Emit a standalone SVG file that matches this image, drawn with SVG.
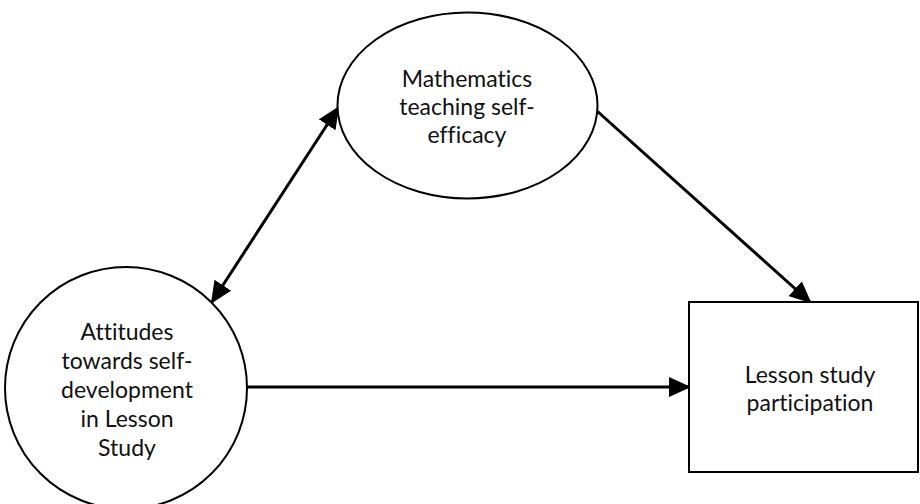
<svg xmlns="http://www.w3.org/2000/svg" width="920" height="504" viewBox="0 0 920 504">
<style>
.shape{fill:#fff;stroke:#000;stroke-width:2}
.lbl{font-family:Lato,"Open Sans","Liberation Sans",sans-serif;font-size:23px;fill:#111;text-anchor:middle;font-variant-ligatures:none}
.edge{stroke:#000;stroke-width:3;fill:none}
</style>
<defs>
<marker id="ah" markerUnits="userSpaceOnUse" markerWidth="22" markerHeight="20" refX="20" refY="10" orient="auto-start-reverse" viewBox="0 0 22 20">
<path d="M0,0 L22,10 L0,20 Z" fill="#000"/>
</marker>
</defs>
<rect width="920" height="504" fill="#fff"/>
<g id="connectors">
<line class="edge" x1="212" y1="302" x2="338" y2="108" marker-start="url(#ah)" marker-end="url(#ah)"/>
<line class="edge" x1="597" y1="111" x2="810" y2="302" marker-end="url(#ah)"/>
<line class="edge" x1="247" y1="387" x2="689" y2="387" marker-end="url(#ah)"/>
</g>
<g id="mte">
<ellipse class="shape" cx="467.5" cy="105.5" rx="130" ry="93"/>
<text class="lbl" x="467" y="87">Mathematics</text>
<text class="lbl" x="467" y="115">teaching self-</text>
<text class="lbl" x="467" y="143">efficacy</text>
</g>
<g id="att">
<circle class="shape" cx="126" cy="388" r="121"/>
<text class="lbl" x="127" y="340">Attitudes</text>
<text class="lbl" x="127" y="369">towards self-</text>
<text class="lbl" x="127" y="398">development</text>
<text class="lbl" x="127" y="427">in Lesson</text>
<text class="lbl" x="127" y="456">Study</text>
</g>
<g id="lsp">
<rect class="shape" x="689" y="302" width="229" height="170"/>
<text class="lbl" x="810" y="383">Lesson study</text>
<text class="lbl" x="810" y="411">participation</text>
</g>
</svg>
